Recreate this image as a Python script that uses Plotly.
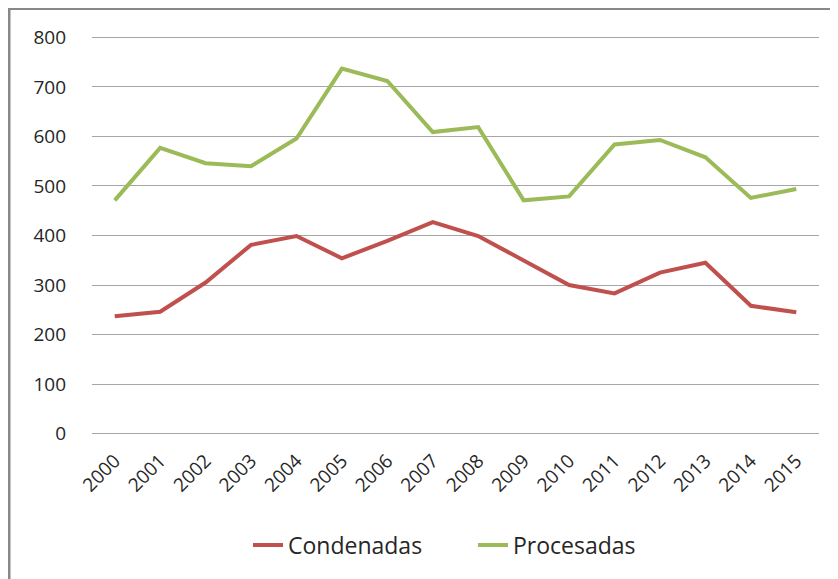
import plotly.graph_objects as go

years = [str(y) for y in range(2000, 2016)]
condenadas = [237, 246, 305, 381, 399, 354, 389, 427, 399, 349, 300, 283, 325, 345, 258, 245]
procesadas = [471, 577, 546, 540, 596, 737, 712, 609, 619, 471, 479, 584, 593, 558, 476, 494]
y_ticks = [0, 100, 200, 300, 400, 500, 600, 700, 800]

FONT = "Open Sans, sans-serif"
TXT = "#262626"

W, H = 830, 571
L, R, T, B = 84, 19, 27, 143
pw, ph = W - L - R, H - T - B

def px_x(x):
    return (x - L) / pw

def px_y(y):
    return (H - B - y) / ph

fig = go.Figure()
fig.add_trace(go.Scatter(x=years, y=condenadas, mode="lines", name="Condenadas",
                         line=dict(color="#C0504D", width=4)))
fig.add_trace(go.Scatter(x=years, y=procesadas, mode="lines", name="Procesadas",
                         line=dict(color="#9BBB59", width=4)))

fig.update_layout(
    width=W, height=H,
    margin=dict(l=L, r=R, t=T, b=B),
    paper_bgcolor="white", plot_bgcolor="white",
    font=dict(family=FONT, size=19, color=TXT),
    showlegend=True,
    legend=dict(orientation="h", x=px_x(240), xanchor="left", y=px_y(537), yanchor="middle",
                entrywidth=180, entrywidthmode="pixels",
                font=dict(family=FONT, size=23, color=TXT)),
    shapes=[
        dict(type="line", xref="paper", yref="paper", x0=px_x(0), x1=px_x(W + 10),
             y0=px_y(0.5), y1=px_y(0.5), line=dict(color="#888888", width=3)),
        dict(type="line", xref="paper", yref="paper", x0=px_x(1), x1=px_x(1),
             y0=px_y(H + 10), y1=px_y(0), line=dict(color="#888888", width=3)),
    ],
)
fig.update_yaxes(range=[-5, 805], tickvals=y_ticks, showgrid=True, gridcolor="#a6a6a6", gridwidth=1,
                 zeroline=False, showline=False, ticks="", ticklabelstandoff=25, automargin=False,
                 tickfont=dict(family=FONT, size=19, color=TXT))
fig.update_xaxes(type="category", range=[-0.5, 15.5], tickangle=-45, showgrid=False, zeroline=False,
                 showline=False, ticks="", ticklabelstandoff=9, automargin=False,
                 tickfont=dict(family=FONT, size=19, color=TXT))

fig.write_html("out.html")
